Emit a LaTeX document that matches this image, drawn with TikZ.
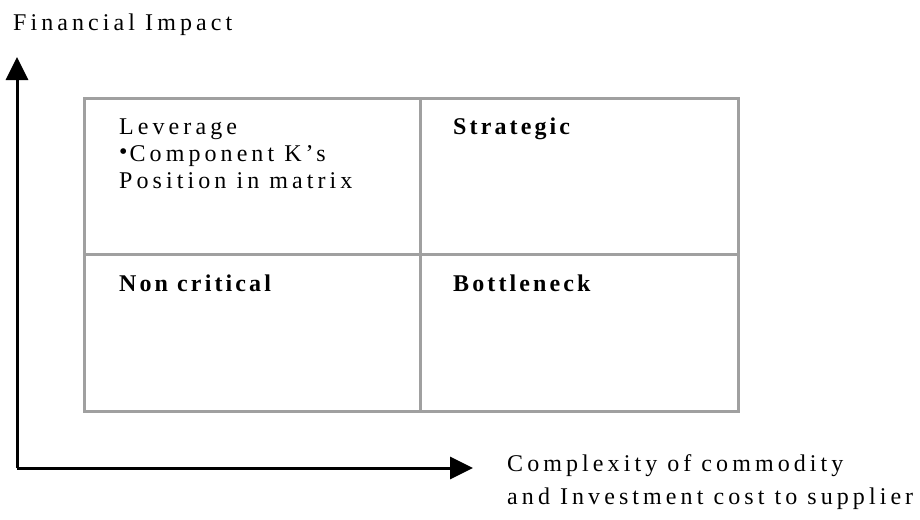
\documentclass[tikz,border=0pt]{standalone}
\usepackage{fontspec}
\setmainfont{Liberation Serif}[LetterSpace=17]
\usetikzlibrary{arrows.meta}
\definecolor{gridgray}{HTML}{A0A0A0}
\begin{document}
\begin{tikzpicture}[x=1pt,y=-1pt,
  cell/.style={draw=gridgray,line width=3pt,minimum width=#1,minimum height=156pt,inner sep=0pt,anchor=north west},
  lbl/.style={inner sep=0pt,anchor=base west,font=\fontsize{24}{28}\selectfont},
  blbl/.style={lbl,font=\fontsize{24}{28}\selectfont\bfseries\addfontfeatures{LetterSpace=13}},
  axis/.style={line width=3pt,-{Triangle[length=23pt,width=22pt]}}]
\useasboundingbox (0,0) rectangle (920,519);
% axes
\coordinate (origin) at (17,468);
\coordinate (ytip) at (17,57);
\coordinate (xtip) at (473,468);
\draw[axis] (origin) -- (ytip);
\draw[axis] (origin) -- (xtip);
% quadrant cells
\node[cell=336pt] (lev) at (83,97) {};
\node[cell=318pt] (str) at (419,97) {};
\node[cell=336pt,minimum height=157pt] (non) at (83,253) {};
\node[cell=318pt,minimum height=157pt] (bot) at (419,253) {};
% labels
\node[lbl] (ylab) at (13,31) {Financial Impact};
\node[lbl] (lev1) at (119,134) {Leverage};
\node[lbl] (lev2) at (119,161) {\raisebox{0.1ex}{\textbullet}\hspace{2pt}Component K's};
\node[lbl] (lev3) at (119,188) {Position in matrix};
\node[blbl] (strl) at (453,134) {Strategic};
\node[blbl] (nonl) at (119,291) {Non critical};
\node[blbl] (botl) at (453,291) {Bottleneck};
\node[lbl] (xlab1) at (507,471) {Complexity of commodity};
\node[lbl] (xlab2) at (507,504) {and Investment cost to supplier};
\end{tikzpicture}
\end{document}
